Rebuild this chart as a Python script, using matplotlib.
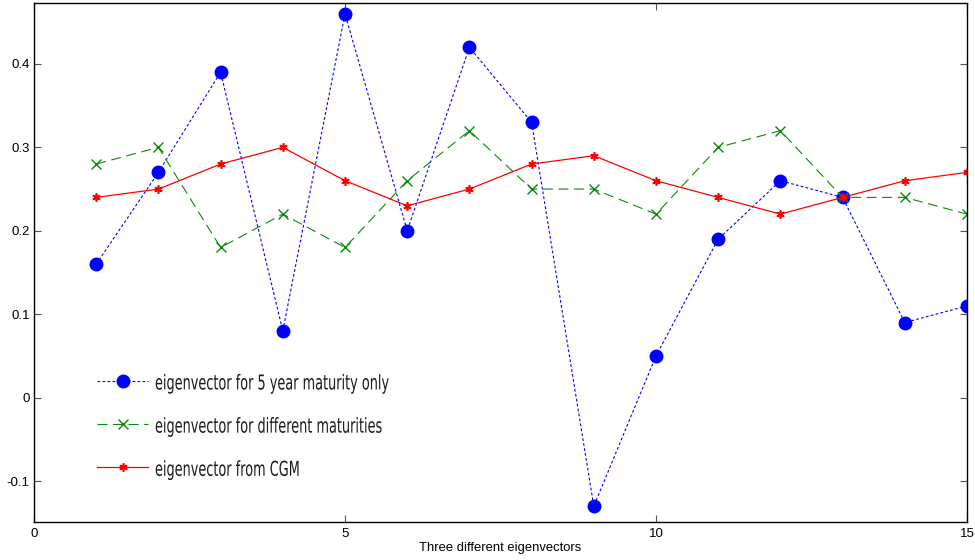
import matplotlib
matplotlib.use("Agg")
import matplotlib.pyplot as plt
from matplotlib.textpath import TextPath
from matplotlib.font_manager import FontProperties
from matplotlib.patches import PathPatch
from matplotlib.transforms import Affine2D

x = list(range(1, 16))
five_year = [0.16, 0.27, 0.39, 0.08, 0.46, 0.20, 0.42, 0.33, -0.13, 0.05, 0.19, 0.26, 0.24, 0.09, 0.11]
diff_mat = [0.28, 0.30, 0.18, 0.22, 0.18, 0.26, 0.32, 0.25, 0.25, 0.22, 0.30, 0.32, 0.24, 0.24, 0.22]
cgm = [0.24, 0.25, 0.28, 0.30, 0.26, 0.23, 0.25, 0.28, 0.29, 0.26, 0.24, 0.22, 0.24, 0.26, 0.27]
labels = ["eigenvector for 5 year maturity only",
          "eigenvector for different maturities",
          "eigenvector from CGM"]
xticks = [0, 5, 10, 15]
yticks = [-0.1, 0, 0.1, 0.2, 0.3, 0.4]
yticklabels = ["-0.1", "0", "0.1", "0.2", "0.3", "0.4"]

plt.rcParams["font.family"] = ["Liberation Sans", "DejaVu Sans"]

fig = plt.figure(figsize=(9.75, 5.6), dpi=100)
ax = fig.add_axes([34/975, 1 - 522/560, 933/975, 519/560])

ax.plot(x, five_year, color="blue", linestyle=(0, (2.5, 2)), linewidth=0.8,
        marker="o", markersize=9, label=labels[0])
ax.plot(x, diff_mat, color="#0a8a0a", linestyle=(0, (9, 5)), linewidth=0.8,
        marker="x", markersize=7, markeredgewidth=1, label=labels[1])
ax.plot(x, cgm, color="red", linestyle="-", linewidth=0.9,
        marker=(6, 2, 0), markersize=6, markeredgewidth=1.2, label=labels[2])

ax.set_xlim(0, 15)
ax.set_ylim(-0.149, 0.473)
ax.set_xticks(xticks)
ax.set_xticklabels([str(t) for t in xticks])
ax.set_yticks(yticks)
ax.set_yticklabels(yticklabels)
ax.tick_params(direction="in", length=5, labelsize=9.5, right=True, top=True,
               color="#555555")
ax.tick_params(axis="y", pad=3)
ax.tick_params(axis="x", pad=4)
for s in ax.spines.values():
    s.set_linewidth(1.0)
ax.set_xlabel("Three different eigenvectors", fontsize=9.4, labelpad=2)

leg = ax.legend(loc="upper left", bbox_to_anchor=((97 - 34)/933, (522 - 375)/519),
                frameon=False, handlelength=3.7, labelspacing=2.1, borderpad=0,
                borderaxespad=0, handletextpad=0.45, prop={"family": "DejaVu Sans", "size": 10})
for t in leg.get_texts():
    t.set_color("none")

fig.canvas.draw()
fp = FontProperties(family="DejaVu Sans")
size_px = 20.5
cap = 0.729 * size_px
ref_w = TextPath((0, 0), labels[0], size=size_px, prop=fp).get_extents().width
sx = 233.0 / ref_w
x_text = 155.0
for t in leg.get_texts():
    bb = t.get_window_extent()
    yc = (bb.y0 + bb.y1) / 2
    p = TextPath((0, 0), t.get_text(), size=size_px, prop=fp)
    patch = PathPatch(p, facecolor="#1a1a1a", edgecolor="none", lw=0)
    patch.set_transform(Affine2D().scale(sx, 1.0).translate(x_text, yc - cap / 2))
    fig.add_artist(patch)

fig.savefig("out.png", dpi=100)
